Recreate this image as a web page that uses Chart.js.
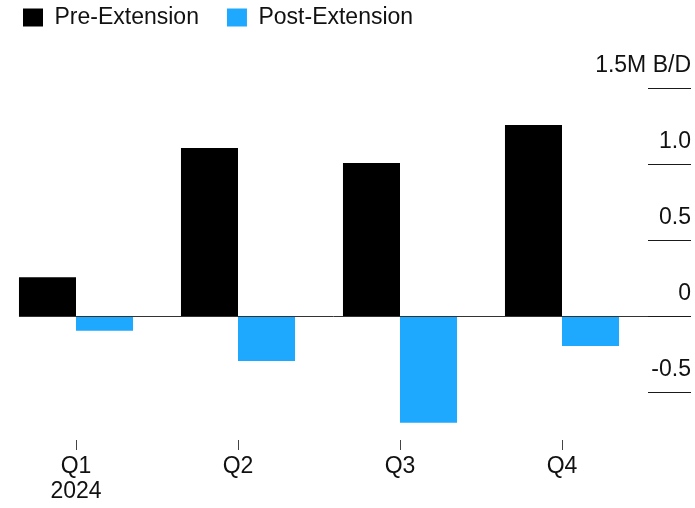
<!DOCTYPE html>
<html>
<head>
<meta charset="utf-8">
<script src="https://cdn.jsdelivr.net/npm/chart.js@4"></script>
<style>
  html, body { margin: 0; padding: 0; background: #fff; overflow: hidden; }
  #wrap { position: absolute; left: -5px; top: -22px; width: 700px; height: 530px; }
</style>
</head>
<body>
<div id="wrap"><canvas id="chart"></canvas></div>
<script>
const categories = [["Q1", "2024"], "Q2", "Q3", "Q4"];
const preExtension = [0.255, 1.105, 1.007, 1.257];
const postExtension = [-0.097, -0.296, -0.703, -0.197];
const yTickValues = [-0.5, 0, 0.5, 1.0, 1.5];
const yTickLabels = ["-0.5", "0", "0.5", "1.0", "1.5M B/D"];

const FONT = "'Liberation Sans', Arial, sans-serif";

// pins the legend height so the plot area starts where the reference does
const legendHeight = {
  id: "legendHeight",
  beforeLayout(chart) {
    const lg = chart.legend;
    if (lg && !lg._pinned) {
      const fit = lg.fit;
      lg.fit = function () {
        fit.call(this);
        this.height = 110;
      };
      lg._pinned = true;
    }
  },
};

// short rule under each y label, plus the zero line
const rules = {
  id: "rules",
  afterDatasetsDraw(chart) {
    const { ctx, chartArea, scales } = chart;
    const y = scales.y;
    ctx.save();
    ctx.strokeStyle = "#1a1a1a";
    ctx.lineWidth = 1;
    yTickValues.forEach((v) => {
      const py = Math.round(y.getPixelForValue(v)) + 0.5;
      ctx.beginPath();
      ctx.moveTo(chartArea.right + 5, py);
      ctx.lineTo(y.right, py);
      ctx.stroke();
    });
    const bar = chart.getDatasetMeta(0).data[0];
    const left = bar.x - bar.width / 2;
    const py0 = Math.round(y.getPixelForValue(0)) + 0.5;
    ctx.strokeStyle = "#333";
    ctx.beginPath();
    ctx.moveTo(left, py0);
    ctx.lineTo(chartArea.right + 5, py0);
    ctx.stroke();
    ctx.restore();
  },
};

new Chart(document.getElementById("chart"), {
  type: "bar",
  data: {
    labels: categories,
    datasets: [
      {
        label: "Pre-Extension",
        data: preExtension,
        backgroundColor: "#000000",
      },
      {
        label: "Post-Extension",
        data: postExtension,
        backgroundColor: "#1ea9ff",
      },
    ],
  },
  options: {
    responsive: true,
    maintainAspectRatio: false,
    animation: false,
    layout: { padding: { left: 0, right: 4, top: 0, bottom: 0 } },
    datasets: {
      bar: { categoryPercentage: 0.704, barPercentage: 1.0 },
    },
    plugins: {
      legend: {
        position: "top",
        align: "start",
        labels: {
          font: { family: FONT, size: 23 },
          color: "#111",
          boxWidth: 20,
          boxHeight: 18,
          padding: 28,
        },
      },
      tooltip: { enabled: false },
    },
    scales: {
      x: {
        offset: true,
        border: { display: false },
        grid: {
          offset: false,
          drawOnChartArea: false,
          drawTicks: true,
          tickLength: 10,
          color: "#444",
        },
        ticks: {
          font: { family: FONT, size: 23, lineHeight: 1.1 },
          color: "#111",
          padding: 4,
          maxRotation: 0,
          autoSkip: false,
        },
        afterFit(s) {
          s.height = 68;
        },
      },
      y: {
        position: "right",
        min: -0.816,
        max: 1.5,
        border: { display: false },
        grid: { display: false },
        afterBuildTicks(s) {
          s.ticks = yTickValues.map((v) => ({ value: v }));
        },
        ticks: {
          font: { family: FONT, size: 23 },
          color: "#111",
          mirror: true,
          crossAlign: "near",
          labelOffset: -22,
          padding: 48,
          callback: (v) => yTickLabels[yTickValues.indexOf(v)] ?? "",
        },
        afterFit(s) {
          s.width = 48;
        },
      },
    },
  },
  plugins: [legendHeight, rules],
});
</script>
</body>
</html>
